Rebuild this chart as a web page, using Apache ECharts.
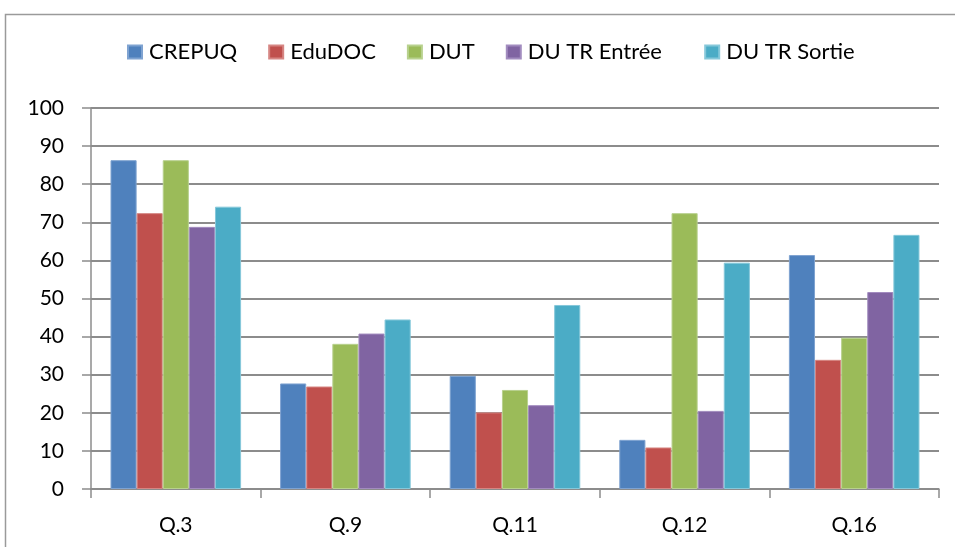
<!DOCTYPE html>
<html>
<head>
<meta charset="utf-8">
<script src="https://cdn.jsdelivr.net/npm/echarts@6/dist/echarts.min.js"></script>
<style>
  html, body { margin: 0; padding: 0; background: #fff; }
  #chart { width: 955px; height: 547px; }
</style>
</head>
<body>
<div id="chart"></div>
<script>
// Questions on the x axis
const categories = ['Q.3', 'Q.9', 'Q.11', 'Q.12', 'Q.16'];

// Percentages per source
const crepuq     = [86.3, 27.7, 29.7, 12.9, 61.4];
const edudoc     = [72.4, 26.9, 20.1, 10.9, 33.9];
const dut        = [86.3, 38.1, 26.0, 72.4, 39.7];
const duTrEntree = [68.8, 40.8, 22.0, 20.5, 51.7];
const duTrSortie = [74.1, 44.5, 48.3, 59.4, 66.7];

const seriesNames = ['CREPUQ', 'EduDOC', 'DUT', 'DU TR Entrée', 'DU TR Sortie'];
const seriesData = [crepuq, edudoc, dut, duTrEntree, duTrSortie];
const colors = ['#4F81BD', '#C0504D', '#9BBB59', '#8064A2', '#4BACC6'];
const borders = ['#7FA3D1', '#D68683', '#B8D18E', '#A28CBF', '#86C8DA'];

const yTicks = { min: 0, max: 100, interval: 10 };

const font = 'Lato, "Open Sans", sans-serif';
const gridGrey = '#8c8c8c';

const chart = echarts.init(document.getElementById('chart'), null, { renderer: 'canvas' });

chart.setOption({
  animation: false,
  color: colors,
  textStyle: { fontFamily: font },
  graphic: [{
    type: 'rect',
    shape: { x: 5.5, y: 14.5, width: 980, height: 560 },
    style: { fill: 'none', stroke: '#9a9a9a', lineWidth: 1.5 },
    silent: true,
    z: 0
  }],
  legend: {
    top: 41,
    left: 127,
    padding: 0,
    itemWidth: 14,
    itemHeight: 13,
    itemGap: 31,
    icon: 'rect',
    // the long label gets a little trailing room so the last entry sits further right
    formatter: name => (name === 'DU TR Entrée' ? name + '  ' : name),
    textStyle: { fontSize: 22, color: '#000', fontFamily: font, padding: [0, 0, 0, 2] },
    data: seriesNames
  },
  grid: { left: 91, right: 16, top: 108, bottom: 58, containLabel: false },
  xAxis: {
    type: 'category',
    data: categories,
    axisLine: { show: true, lineStyle: { color: gridGrey, width: 1.5 } },
    axisTick: { show: true, alignWithLabel: false, length: 9, lineStyle: { color: gridGrey, width: 1.5 } },
    axisLabel: { fontSize: 21, color: '#000', margin: 26, fontFamily: font }
  },
  yAxis: {
    type: 'value',
    min: yTicks.min,
    max: yTicks.max,
    interval: yTicks.interval,
    axisLine: { show: true, lineStyle: { color: gridGrey, width: 1.5 } },
    axisTick: { show: true, length: 9, lineStyle: { color: gridGrey, width: 1.5 } },
    axisLabel: { fontSize: 21, color: '#000', margin: 27, fontFamily: font },
    splitLine: { show: true, lineStyle: { color: gridGrey, width: 2 } }
  },
  series: seriesData.map((d, i) => ({
    name: seriesNames[i],
    type: 'bar',
    data: d,
    barGap: '0%',
    barCategoryGap: '23%',
    itemStyle: { color: colors[i], borderColor: borders[i], borderWidth: 1 }
  }))
});
</script>
</body>
</html>
